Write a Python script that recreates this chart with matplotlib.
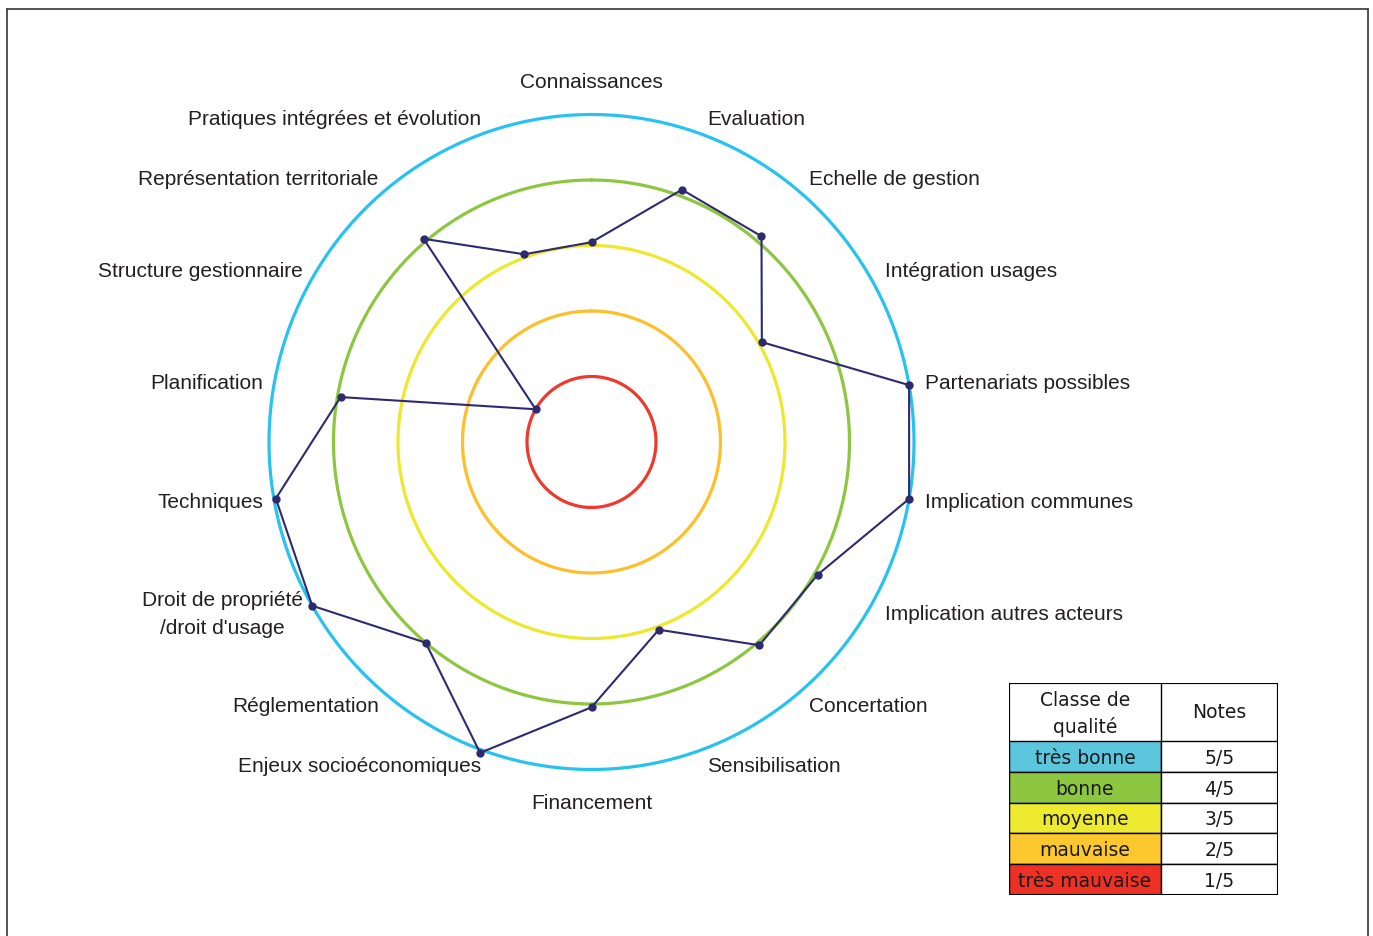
import numpy as np
import matplotlib
matplotlib.use("Agg")
import matplotlib.pyplot as plt
from matplotlib.patches import Rectangle
from matplotlib.lines import Line2D

# Critères du radar (sens horaire depuis le haut)
criteres = ["Connaissances", "Evaluation", "Echelle de gestion", "Intégration usages",
            "Partenariats possibles", "Implication communes", "Implication autres acteurs",
            "Concertation", "Sensibilisation", "Financement", "Enjeux socioéconomiques",
            "Réglementation", "Droit de propriété\n/droit d'usage", "Techniques",
            "Planification", "Structure gestionnaire", "Représentation territoriale",
            "Pratiques intégrées et évolution"]
notes = [3.05, 4.1, 4.1, 3.05, 5.0, 5.0, 4.05, 4.05, 3.05, 4.05,
         5.05, 4.0, 5.0, 4.97, 3.95, 1.0, 4.05, 3.05]

classes = ["très bonne", "bonne", "moyenne", "mauvaise", "très mauvaise"]
niveaux = ["5/5", "4/5", "3/5", "2/5", "1/5"]
couleurs_classes = ["#5BC6DC", "#8DC641", "#EEEA2F", "#FDC82F", "#EE3125"]
anneaux = [5, 4, 3, 2, 1]
couleurs_anneaux = ["#27C2F0", "#8DC63F", "#EEE82C", "#FDBF2B", "#EE3A2E"]

W, H = 1373, 937
fig = plt.figure(figsize=(W / 100, H / 100), dpi=100)
plt.rcParams['font.family'] = ['Liberation Sans', 'DejaVu Sans']

# polar axes: centre (591.5, 443) px, 1 unité = 64.5 px (horiz.) / 65.5 px (vert.)
rmax = 6.0
ux, uy = 64.5, 65.5
cx, cy = 591.5, 443
ax = fig.add_axes([(cx - rmax * ux) / W, (H - cy - rmax * uy) / H,
                   2 * rmax * ux / W, 2 * rmax * uy / H], projection='polar')
ax.set_aspect('auto')
ax.set_theta_zero_location('N')
ax.set_theta_direction(-1)
ax.set_ylim(0, rmax)
ax.axis('off')

t = np.linspace(0, 2 * np.pi, 400)
for r, c in zip(anneaux, couleurs_anneaux):
    ax.plot(t, np.full_like(t, r), color=c, lw=2.3, solid_capstyle='round')

ang = np.deg2rad(np.arange(len(criteres)) * 360.0 / len(criteres))
ax.plot(np.append(ang, ang[0]), notes + [notes[0]], color="#2E2A6E", lw=1.5,
        marker='o', markersize=5, markevery=list(range(len(notes))))

for i, (a, lab) in enumerate(zip(ang, criteres)):
    if i == 0 or i == 9:
        ha, r, dx = 'center', 5.5, 0
    elif i < 9:
        ha, r, dx = 'left', 5.25, 0
    else:
        ha, r, dx = 'right', 5.25, 5
    ax.annotate(lab, xy=(a, r), xytext=(dx, 0), textcoords='offset pixels',
                ha=ha, va='center', ma='center', fontsize=15,
                color="#231F20", linespacing=1.6)

# tableau des classes
tx, ty, tw, th = 1009, 684, 269, 212
tab = fig.add_axes([tx / W, (H - ty - th) / H, tw / W, th / H])
tab.set_xlim(0, tw)
tab.set_ylim(th, 0)
tab.axis('off')
c1 = 152
hh = 58
rh = (th - hh) / 5.0
fs_tab = 13.5
tab.add_patch(Rectangle((0, 0), tw, th, fc='white', ec='black', lw=1.5))
for k, (cl, nv, col) in enumerate(zip(classes, niveaux, couleurs_classes)):
    y0 = hh + k * rh
    tab.add_patch(Rectangle((0, y0), c1, rh, fc=col, ec='black', lw=1.0))
    tab.add_patch(Rectangle((c1, y0), tw - c1, rh, fc='white', ec='black', lw=1.0))
    tab.text(c1 / 2, y0 + rh / 2 + 1, cl, ha='center', va='center', fontsize=fs_tab,
             family='DejaVu Sans', color="#1A1A1A")
    tab.text(c1 + (tw - c1) / 2, y0 + rh / 2 + 1, nv, ha='center', va='center',
             fontsize=fs_tab, family='DejaVu Sans', color="#1A1A1A")
tab.plot([c1, c1], [0, hh], color='black', lw=1.0)
tab.add_patch(Rectangle((0, 0), tw, th, fc='none', ec='black', lw=1.5))
tab.text(c1 / 2, hh / 2 + 1, "Classe de\nqualité", ha='center', va='center',
         fontsize=fs_tab, family='DejaVu Sans', color="#1A1A1A", linespacing=1.45)
tab.text(c1 + (tw - c1) / 2, hh / 2, "Notes", ha='center', va='center',
         fontsize=fs_tab, family='DejaVu Sans', color="#1A1A1A")

# cadre
for xs, ys in [([7, 7], [10, H]), ([1368, 1368], [10, H]), ([7, 1368], [10, 10])]:
    fig.add_artist(Line2D([x / W for x in xs], [1 - y / H for y in ys],
                          color="#444444", lw=1.3))

fig.savefig("out.png", dpi=100)
